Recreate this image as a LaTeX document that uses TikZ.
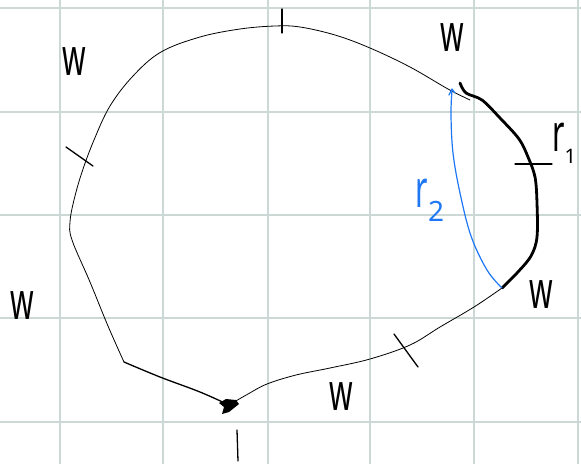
\documentclass[tikz,border=0pt]{standalone}
\usepackage{fontspec}
\setmainfont{Noto Sans}
\definecolor{gridc}{RGB}{204,216,214}
\definecolor{penblue}{RGB}{30,120,245}
\tikzset{
  gridline/.style={draw=gridc, line width=1.4pt},
  thinpen/.style={draw=black, line width=0.8pt, line cap=round, line join=round},
  midpen/.style={draw=black, line width=1.3pt, line cap=round, line join=round},
  thickpen/.style={draw=black, line width=2.8pt, line cap=round, line join=round},
  bluepen/.style={draw=penblue, line width=1.2pt, line cap=round, line join=round},
  lbl/.style={inner sep=0pt, font=\fontsize{40}{40}\selectfont},
}
\newcommand{\hw}[1]{\scalebox{0.75}[1.3]{#1}}
\begin{document}
\begin{tikzpicture}[x=1pt,y=-1pt]
\useasboundingbox (0,0) rectangle (581,464);
\fill[white] (0,0) rectangle (581,464);
% grid
\foreach \gx in {60,163,268,370,474,578} \draw[gridline] (\gx,0) -- (\gx,464);
\foreach \gy in {8,112,215,318,422} \draw[gridline] (0,\gy) -- (581,\gy);
% key points
\coordinate (bot) at (229,405);
\coordinate (corner) at (124,362);
\coordinate (thB) at (502,288);
% lower left segment
\draw[midpen] plot[smooth, tension=0.6] coordinates {(bot) (200,392) (160,377) (corner)};
% left side up, over the top, to the thick arc
\draw[thinpen] plot[smooth, tension=0.6] coordinates {(corner) (108,326) (90,282) (72,240) (70,222) (74,200) (82,172) (94,140) (110,106) (133,76) (161,52) (200,37) (240,29) (275,26) (300,27) (335,35) (370,48) (410,67) (448,89) (470,100)};
% thick arc
\draw[thickpen] plot[smooth, tension=0.55] coordinates {(460,83) (466,93) (482,100) (500,118) (519,139) (528,157) (535,177) (537,203) (537,237) (531,256) (517,273) (thB)};
% bottom right thin
\draw[thinpen] plot[smooth, tension=0.6] coordinates {(thB) (474,307) (440,327) (410,345) (370,359) (330,368) (296,375) (267,384) (248,394) (bot)};
% blob at bottom point
\fill[black] (219,403) -- (226,399) -- (236,400) -- (239,404) -- (234,408) -- (229,412) -- (222,414) -- (224,407) -- cycle;
% blue chord r2
\draw[bluepen] plot[smooth, tension=0.6] coordinates {(thB) (487,270) (471,236) (460,193) (453,153) (451,115) (452,90)};
\draw[bluepen] (449,95) -- (452,89) -- (455,93);
% tick marks
\draw[midpen] (282,9) -- (282,33);
\draw[midpen] (66,147) -- (93,166);
\draw[midpen] (515,164) -- (552,164);
\draw[midpen] (394,334) -- (418,367);
\draw[midpen] (237,430) -- (238,461);
% labels
\node[lbl] (w1) at (74,62) {\hw{w}};
\node[lbl] (w2) at (452,38) {\hw{w}};
\node[lbl] (w3) at (22,306) {\hw{w}};
\node[lbl] (w4) at (541,295) {\hw{w}};
\node[lbl] (w5) at (341,397) {\hw{w}};
\node[lbl, anchor=west] (r1) at (552,143) {\hw{r}\raisebox{-12pt}{\fontsize{20}{20}\selectfont 1}};
\node[lbl, text=penblue] (r2) at (430,200) {\hw{r}\raisebox{-14pt}{\fontsize{28}{28}\selectfont 2}};
\end{tikzpicture}
\end{document}
